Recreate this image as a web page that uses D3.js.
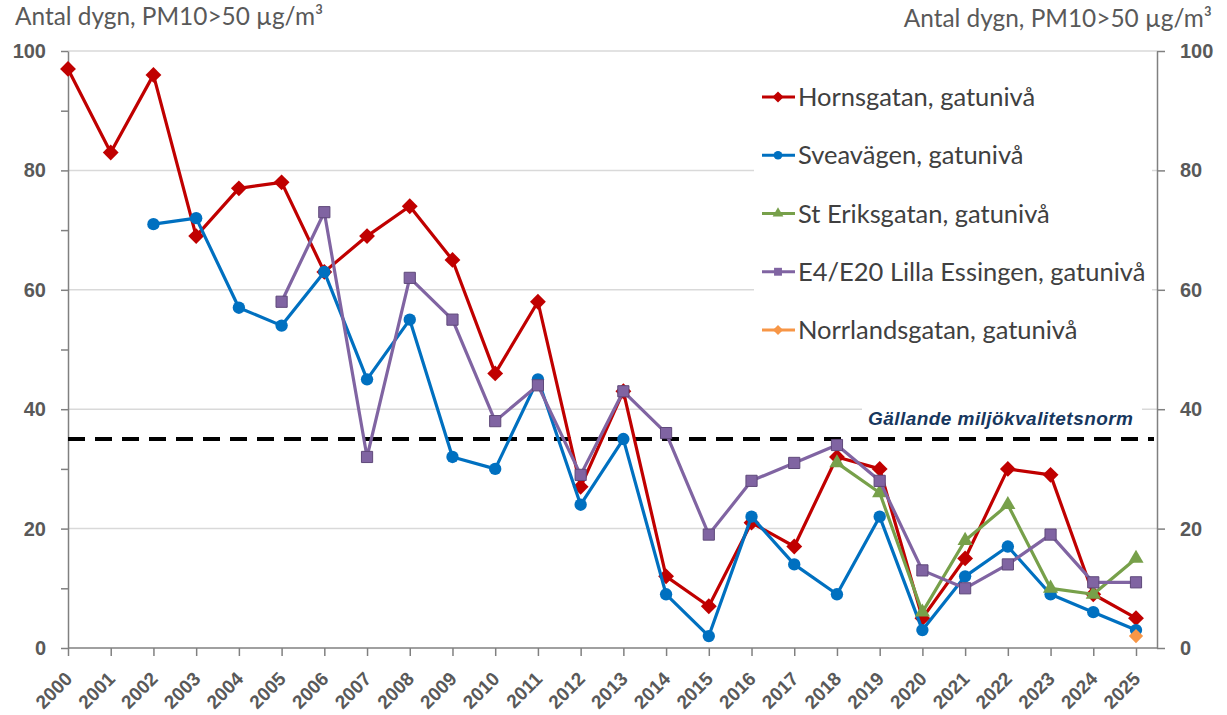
<!DOCTYPE html>
<html>
<head>
<meta charset="utf-8">
<script src="https://cdn.jsdelivr.net/npm/d3@7"></script>
<style>
  body { margin: 0; background: #fff; }
  svg { display: block; font-family: Lato, "Open Sans", sans-serif; }
</style>
</head>
<body>
<svg id="chart" width="1227" height="715"></svg>
<script>
const years = d3.range(2000, 2026);
const yTicks = [0, 20, 40, 60, 80, 100];
const normValue = 35;
const normLabel = "Gällande miljökvalitetsnorm";
const axisTitle = "Antal dygn, PM10>50 µg/m³";

// values per station, null = no measurement
const hornsgatan = [97, 83, 96, 69, 77, 78, 63, 69, 74, 65, 46, 58, 27, 43, 12, 7, 21, 17, 32, 30, 5, 15, 30, 29, 9, 5];
const sveavagen = [null, null, 71, 72, 57, 54, 63, 45, 55, 32, 30, 45, 24, 35, 9, 2, 22, 14, 9, 22, 3, 12, 17, 9, 6, 3];
const stEriksgatan = [null, null, null, null, null, null, null, null, null, null, null, null, null, null, null, null, null, null, 31, 26, 6, 18, 24, 10, 9, 15];
const lillaEssingen = [null, null, null, null, null, 58, 73, 32, 62, 55, 38, 44, 29, 43, 36, 19, 28, 31, 34, 28, 13, 10, 14, 19, 11, 11];
const norrlandsgatan = [null, null, null, null, null, null, null, null, null, null, null, null, null, null, null, null, null, null, null, null, null, null, null, null, null, 2];

const series = [
  { name: "Hornsgatan, gatunivå", values: hornsgatan, color: "#C00000", symbol: d3.symbolDiamond2, size: 160 },
  { name: "Sveavägen, gatunivå", values: sveavagen, color: "#0070C0", symbol: d3.symbolCircle, size: 120 },
  { name: "St Eriksgatan, gatunivå", values: stEriksgatan, color: "#77A04A", symbol: d3.symbolTriangle, size: 100 },
  { name: "E4/E20 Lilla Essingen, gatunivå", values: lillaEssingen, color: "#8064A2", symbol: d3.symbolSquare, size: 125 },
  { name: "Norrlandsgatan, gatunivå", values: norrlandsgatan, color: "#F79646", symbol: d3.symbolDiamond2, size: 130 }
];

const svg = d3.select("#chart");
const plotLeft = 68, plotRight = 1157, lastX = 1136, plotTop = 51, plotBottom = 648;

const x = d3.scaleLinear().domain([2000, 2025]).range([plotLeft, lastX]);
const y = d3.scaleLinear().domain([0, 100]).range([plotBottom, plotTop]);

// gridlines
svg.append("g")
  .selectAll("line")
  .data(yTicks.filter(d => d > 0))
  .join("line")
  .attr("x1", plotLeft).attr("x2", plotRight)
  .attr("y1", d => y(d)).attr("y2", d => y(d))
  .attr("stroke", "#D9D9D9").attr("stroke-width", 1.5);

// left axis (minor ticks every 10)
const yLeft = svg.append("g")
  .attr("transform", `translate(${plotLeft},0)`)
  .call(d3.axisLeft(y).tickValues(d3.range(0, 101, 10)).tickSize(7).tickSizeOuter(0).tickFormat(d => yTicks.includes(d) ? d : ""));
yLeft.select(".domain").attr("stroke", "#808080").attr("stroke-width", 1.5);
yLeft.selectAll(".tick line").attr("stroke", "#808080").attr("stroke-width", 1.5);
yLeft.selectAll(".tick text")
  .attr("x", -22).attr("fill", "#595959")
  .style("font-size", "20px").style("font-weight", "bold");

// right axis
const yRight = svg.append("g")
  .attr("transform", `translate(${plotRight},0)`)
  .call(d3.axisRight(y).tickValues(yTicks).tickSize(8).tickSizeOuter(0));
yRight.select(".domain").attr("stroke", "#808080").attr("stroke-width", 1.5);
yRight.selectAll(".tick line").attr("stroke", "#808080").attr("stroke-width", 1.5);
yRight.selectAll(".tick text")
  .attr("x", 23).attr("fill", "#595959")
  .style("font-size", "20px").style("font-weight", "bold");

// x axis
svg.append("line")
  .attr("x1", plotLeft).attr("x2", plotRight)
  .attr("y1", plotBottom).attr("y2", plotBottom)
  .attr("stroke", "#808080").attr("stroke-width", 1.5);
const xAxis = svg.append("g")
  .attr("transform", `translate(0,${plotBottom})`)
  .call(d3.axisBottom(x).tickValues(years).tickFormat(d3.format("d")).tickSize(8));
xAxis.select(".domain").remove();
xAxis.selectAll(".tick line").attr("stroke", "#808080").attr("stroke-width", 1.5);
xAxis.selectAll(".tick text")
  .attr("fill", "#595959")
  .style("font-size", "19px").style("font-weight", "bold")
  .attr("text-anchor", "end")
  .attr("dy", 0).attr("y", 0)
  .attr("transform", "translate(5,32) rotate(-45)");

// axis titles
svg.append("text")
  .attr("x", 15).attr("y", 25)
  .attr("fill", "#595959").style("font-size", "24.4px")
  .text(axisTitle);
svg.append("text")
  .attr("x", 1212).attr("y", 27).attr("text-anchor", "end")
  .attr("fill", "#595959").style("font-size", "24.4px")
  .text(axisTitle);

// norm label with white box
const normText = svg.append("text")
  .attr("x", 868).attr("y", 425)
  .attr("fill", "#17375E")
  .style("font-family", "'Liberation Sans', Arial, sans-serif")
  .style("font-size", "19px")
  .style("font-weight", "bold").style("font-style", "italic")
  .attr("textLength", 265).attr("lengthAdjust", "spacing")
  .text(normLabel);
svg.insert("rect", () => normText.node())
  .attr("x", 862).attr("y", 402)
  .attr("width", 280).attr("height", 28)
  .attr("fill", "#fff");

// norm dashed line
svg.append("line")
  .attr("x1", plotLeft).attr("x2", plotRight - 3)
  .attr("y1", y(normValue)).attr("y2", y(normValue))
  .attr("stroke", "#000").attr("stroke-width", 4)
  .attr("stroke-dasharray", "17,10");

// series
const line = d3.line()
  .defined(d => d.v != null)
  .x(d => x(d.year)).y(d => y(d.v));

series.forEach(s => {
  const pts = years.map((year, i) => ({ year, v: s.values[i] }));
  svg.append("path")
    .datum(pts)
    .attr("d", line)
    .attr("fill", "none")
    .attr("stroke", s.color).attr("stroke-width", 3.2)
    .attr("stroke-linejoin", "round");
  svg.append("g")
    .selectAll("path")
    .data(pts.filter(d => d.v != null))
    .join("path")
    .attr("transform", d => `translate(${x(d.year)},${y(d.v)})`)
    .attr("d", d3.symbol().type(s.symbol).size(s.size))
    .attr("fill", s.color)
    .attr("stroke", s.symbol === d3.symbolSquare ? "#5F497A" : "none")
    .attr("stroke-width", 1);
});

// legend
const legend = svg.append("g");
legend.append("rect")
  .attr("x", 754).attr("y", 62).attr("width", 398).attr("height", 290)
  .attr("fill", "#fff");
const legendY = d3.scalePoint().domain(series.map(s => s.name)).range([97, 330]);
series.forEach(s => {
  const cy = legendY(s.name);
  legend.append("line")
    .attr("x1", 762).attr("x2", 795)
    .attr("y1", cy).attr("y2", cy)
    .attr("stroke", s.color).attr("stroke-width", 3);
  legend.append("path")
    .attr("transform", `translate(778,${cy})`)
    .attr("d", d3.symbol().type(s.symbol).size(s.size * 0.5))
    .attr("fill", s.color);
  legend.append("text")
    .attr("x", 798).attr("y", cy).attr("dy", "0.36em")
    .attr("fill", "#404040").style("font-size", "25.5px")
    .text(s.name);
});
</script>
</body>
</html>
